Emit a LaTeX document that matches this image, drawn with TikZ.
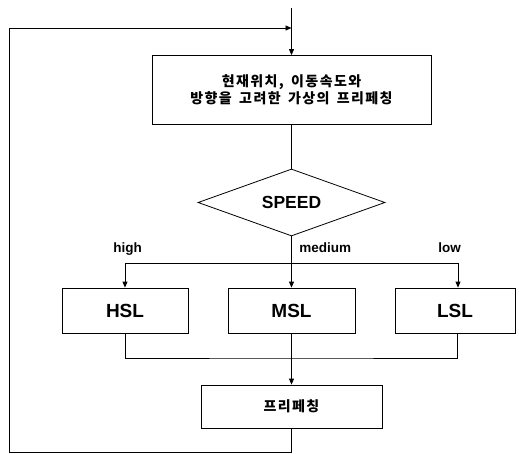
\documentclass[tikz,border=0pt]{standalone}
\usepackage{fontspec}
\setmainfont{Liberation Sans}
\newfontfamily\kr[LetterSpace=10,WordSpace=1.6]{Noto Sans CJK KR}
\usetikzlibrary{arrows.meta,shapes.geometric}
\begin{document}
\begin{tikzpicture}[x=1pt,y=-1pt,
  line width=0.8pt,
  arr/.style={-{Triangle[length=6pt,width=5pt]}},
  boxnode/.style={draw,rectangle,inner sep=0pt,align=center},
  lab/.style={font=\fontsize{13.5}{16}\selectfont\bfseries,inner sep=0pt,anchor=base west},
  sl/.style={boxnode,minimum height=45pt,font=\fontsize{19}{22}\selectfont\bfseries}]
\useasboundingbox (0,0) rectangle (519,454);
\coordinate (top) at (291.5,8);
\node[boxnode,minimum width=279pt,minimum height=69pt,font=\kr\fontsize{14}{17.5}\selectfont\bfseries] (box1) at (291.5,90) {현재위치, 이동속도와\\방향을 고려한 가상의 프리페칭};
\node[draw,diamond,inner sep=0pt,minimum width=187pt,minimum height=67pt,aspect=2.8,font=\fontsize{17.5}{20}\selectfont\bfseries] (dia) at (291.5,202.5) {SPEED};
\coordinate (sp) at (291.5,263);
\node[sl,minimum width=126pt] (HSL) at (125,310.5) {HSL};
\node[sl,minimum width=127pt] (MSL) at (291.5,310.5) {MSL};
\node[sl,minimum width=120pt] (LSL) at (455,310.5) {LSL};
\coordinate (mg) at (291.5,358);
\node[boxnode,minimum width=181pt,minimum height=43pt,font=\kr\fontsize{14}{17.5}\selectfont\bfseries] (pf) at (291.5,406.5) {프리페칭};
\coordinate (lb) at (9,452);
\coordinate (jn) at (291.5,28);
\node[lab] (lhigh) at (113,253) {high};
\node[lab] (lmed) at (299,253) {medium};
\node[lab] (llow) at (438,253) {low};
\draw[arr] (top) -- (box1.north);
\draw (box1.south) -- (dia.north);
\draw[arr] (dia.south) -- (MSL.north);
\draw[arr] (sp) -| (HSL.north);
\draw[arr] (sp) -| ([xshift=3pt]LSL.north);
\draw (HSL.south) |- (mg) -| ([xshift=2pt]LSL.south);
\draw[arr] (MSL.south) -- (pf.north);
\draw[arr] (pf.south) |- (lb) |- (jn);
\end{tikzpicture}
\end{document}
